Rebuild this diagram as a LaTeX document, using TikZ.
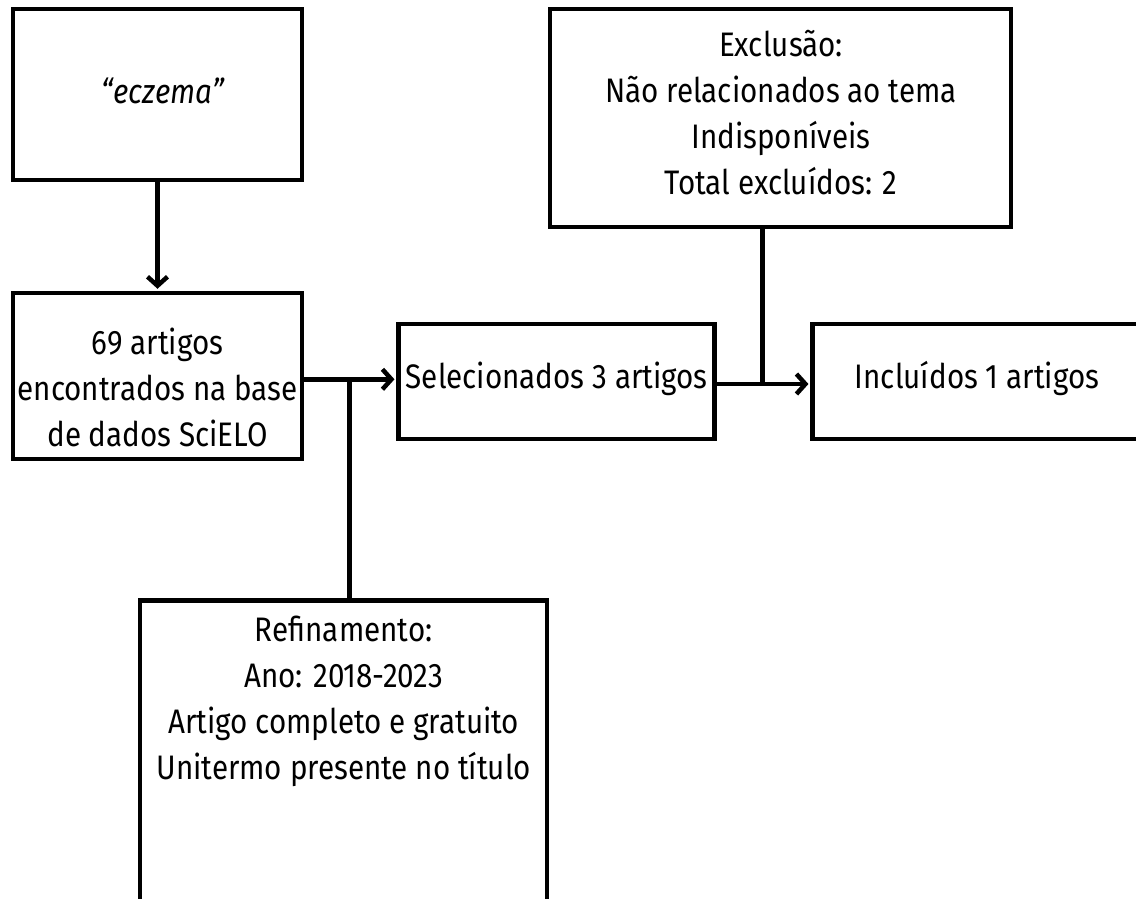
\documentclass[tikz,border=0pt]{standalone}
\usepackage{fontspec}
\setmainfont{Fira Sans}[FakeStretch=0.87]
\usetikzlibrary{arrows.meta}
\begin{document}
\begin{tikzpicture}[x=1pt,y=-1pt,
  box/.style={draw, line width=4.5pt, inner sep=0pt},
  txt/.style={font=\fontsize{34}{46}\selectfont, align=center, inner sep=0pt},
  conn/.style={line width=4.5pt},
  arr/.style={conn, -{Straight Barb[length=9pt,width=20pt]}, shorten >=2pt}]
\useasboundingbox (0,0) rectangle (1136,899);
\clip (0,0) rectangle (1136,899);
% boxes
\node[box, minimum width=289pt, minimum height=171pt] (ecz) at (157.5,94.5) {};
\node[box, minimum width=289pt, minimum height=166pt] (a2) at (157.5,376) {};
\node[box, minimum width=316pt, minimum height=115pt] (sel) at (556.7,381.3) {};
\node[box, minimum width=340pt, minimum height=115pt] (inc) at (982.7,381.3) {};
\node[box, minimum width=461pt, minimum height=218pt] (exc) at (780.7,118) {};
\node[box, minimum width=407pt, minimum height=320pt] (ref) at (343.7,760.3) {};
% texts
\node[txt, font=\fontsize{34}{46}\selectfont\itshape] (tecz) at (163,91) {“eczema”};
\node[txt] (ta2) at (157.5,387) {69 artigos\\encontrados na base\\de dados SciELO};
\node[txt] (tsel) at (556.7,379) {Selecionados 3 artigos};
\node[txt] (tinc) at (977,379) {Incluídos 1 artigos};
\node[txt] (texc) at (781,113) {Exclusão:\\Não relacionados ao tema\\Indisponíveis\\Total excluídos: 2};
\node[txt] (tref) at (343.7,701) {Refinamento:\\Ano: 2018-2023\\Artigo completo e gratuito\\Unitermo presente no título};
% connectors
\coordinate (j1) at (349.3,379.3);
\coordinate (j2) at (762.7,384);
\draw[arr] (ecz.south) -- (a2.north);
\draw[arr] (a2.east |- j1) -- (sel.west |- j1);
\draw[conn] (j1) -- (j1 |- ref.north);
\draw[arr] (sel.east |- j2) -- (inc.west |- j2);
\draw[conn] (exc.south -| j2) -- (j2);
\end{tikzpicture}
\end{document}
